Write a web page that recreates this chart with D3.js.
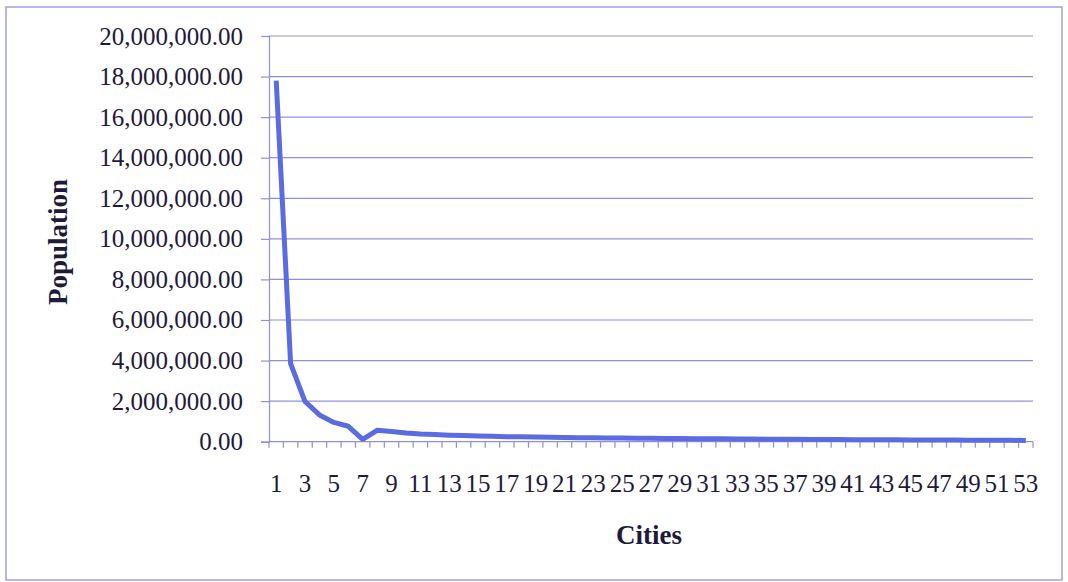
<!DOCTYPE html>
<html>
<head>
<meta charset="utf-8">
<script src="https://cdn.jsdelivr.net/npm/d3@7"></script>
<style>
  html, body { margin: 0; padding: 0; background: #fff; }
  svg { display: block; }
  text { font-family: "Liberation Serif", "Times New Roman", serif; fill: #1f1a3a; }
</style>
</head>
<body>
<svg id="chart" width="1068" height="582"></svg>
<script>
// ---- data ----
const cities = d3.range(1, 54);
const population = [
  17800000, 3850000, 1980000, 1320000, 950000, 760000, 110000, 560000, 500000, 430000,
  380000, 350000, 320000, 300000, 280000, 265000, 250000, 240000, 230000, 220000,
  210000, 200000, 192000, 185000, 178000, 172000, 166000, 160000, 155000, 150000,
  145000, 140000, 135000, 130000, 126000, 122000, 118000, 114000, 110000, 106000,
  102000, 98000, 95000, 92000, 89000, 86000, 83000, 80000, 77000, 74000,
  71000, 68000, 60000
];
const yTicks = [0, 2000000, 4000000, 6000000, 8000000, 10000000, 12000000, 14000000, 16000000, 18000000, 20000000];
const xTickLabels = cities.filter(c => c % 2 === 1);
const xTitle = "Cities";
const yTitle = "Population";

// ---- layout ----
const svg = d3.select("#chart");
const plotL = 269, plotR = 1033, plotT = 36, plotB = 441.7;
const gridColor = "#8f8fe0";

svg.append("rect").attr("x", 6).attr("y", 7).attr("width", 1056).attr("height", 573)
  .attr("fill", "#fff").attr("stroke", "#a0a0e6").attr("stroke-width", 1.5);

const x = d3.scaleBand().domain(cities).range([plotL, plotR]).padding(0);
const y = d3.scaleLinear().domain([0, 20000000]).range([plotB, plotT]);

// gridlines
svg.append("g").selectAll("line").data(yTicks.filter(d => d > 0)).join("line")
  .attr("x1", plotL).attr("x2", plotR)
  .attr("y1", d => y(d)).attr("y2", d => y(d))
  .attr("stroke", gridColor).attr("stroke-width", 1.2);

// y axis
const fmt = d3.format(",.2f");
const yAxis = d3.axisLeft(y).tickValues(yTicks).tickSize(8).tickPadding(18).tickFormat(fmt);
const gy = svg.append("g").attr("transform", `translate(${plotL},0)`).call(yAxis);
gy.select(".domain").attr("stroke", gridColor).attr("stroke-width", 1.2);
gy.selectAll(".tick line").attr("stroke", gridColor).attr("stroke-width", 1.2);
gy.selectAll(".tick text").attr("font-size", 25).attr("fill", "#1f1a3a")
  .style("font-family", "'Liberation Serif', 'Times New Roman', serif");

// x axis: line + boundary ticks
svg.append("line").attr("x1", plotL).attr("x2", plotR).attr("y1", plotB).attr("y2", plotB)
  .attr("stroke", gridColor).attr("stroke-width", 1.2);
const boundaries = cities.map(c => x(c)).concat([plotR]);
svg.append("g").selectAll("line").data(boundaries).join("line")
  .attr("x1", d => d).attr("x2", d => d)
  .attr("y1", plotB).attr("y2", plotB + 6)
  .attr("stroke", gridColor).attr("stroke-width", 1.2);

svg.append("g").selectAll("text").data(xTickLabels).join("text")
  .attr("x", d => x(d) + x.bandwidth() / 2)
  .attr("y", 492)
  .attr("text-anchor", "middle")
  .attr("font-size", 25)
  .text(d => d);

// line
const line = d3.line()
  .x((d, i) => x(cities[i]) + x.bandwidth() / 2)
  .y(d => y(d));
svg.append("path").datum(population)
  .attr("d", line)
  .attr("fill", "none")
  .attr("stroke", "#5b6ce2")
  .attr("stroke-width", 5)
  .attr("stroke-linejoin", "round");

// titles
svg.append("text").attr("x", 649).attr("y", 544).attr("text-anchor", "middle")
  .attr("font-size", 27).attr("font-weight", "bold").text(xTitle);
svg.append("text").attr("transform", "translate(67,242) rotate(-90)")
  .attr("text-anchor", "middle")
  .attr("font-size", 27).attr("font-weight", "bold").text(yTitle);
</script>
</body>
</html>
